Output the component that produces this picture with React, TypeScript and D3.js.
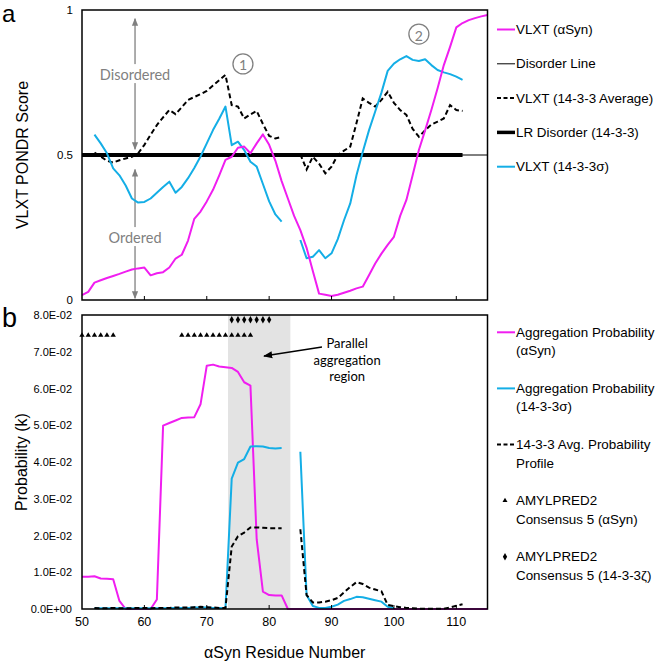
import React from 'react';
import * as d3 from 'd3';

// ---------- DATA ----------
const residues: number[] = d3.range(50, 116); // residue numbers 50..115

// Panel a: VLXT PONDR scores
const vlxtASyn: (number | null)[] = [
  0.017, 0.028, 0.06, 0.068, 0.076, 0.083, 0.09, 0.098, 0.105, 0.109,
  0.112, 0.085, 0.092, 0.096, 0.112, 0.143, 0.156, 0.205, 0.28, 0.305,
  0.34, 0.38, 0.43, 0.483, 0.494, 0.525, 0.529, 0.506, 0.54, 0.571,
  0.535, 0.48, 0.41, 0.35, 0.29, 0.241, 0.18, 0.1, 0.022, 0.018,
  0.014, 0.018, 0.025, 0.032, 0.04, 0.046, 0.085, 0.126, 0.16, 0.19,
  0.218, 0.29, 0.345, 0.43, 0.517, 0.585, 0.655, 0.73, 0.81, 0.873,
  0.94, 0.955, 0.965, 0.972, 0.978, 0.983,
];
const vlxtSigma: (number | null)[] = [
  null, null, 0.57, 0.54, 0.506, 0.454, 0.43, 0.395, 0.35, 0.336,
  0.338, 0.35, 0.37, 0.39, 0.408, 0.37, 0.39, 0.42, 0.455, 0.495,
  0.54, 0.586, 0.625, 0.667, 0.534, 0.546, 0.517, 0.477, 0.46, 0.4,
  0.34, 0.295, 0.27, null, null, 0.207, 0.144, 0.149, 0.172, 0.144,
  0.161, 0.21, 0.275, 0.333, 0.43, 0.51, 0.585, 0.65, 0.715, 0.79,
  0.815, 0.83, 0.841, 0.828, 0.824, 0.83, 0.81, 0.793, 0.785, 0.779,
  0.77, 0.759, null, null, null, null,
];
const vlxtAvg: (number | null)[] = [
  null, null, 0.508, 0.495, 0.48, 0.474, 0.482, 0.488, 0.494, 0.506,
  0.535, 0.57, 0.603, 0.63, 0.655, 0.641, 0.665, 0.69, 0.7, 0.71,
  0.721, 0.74, 0.758, 0.776, 0.672, 0.667, 0.626, 0.64, 0.652, 0.607,
  0.566, 0.557, 0.563, null, null, 0.503, 0.45, 0.494, 0.47, 0.437,
  0.46, 0.5, 0.515, 0.529, 0.61, 0.695, 0.68, 0.667, 0.69, 0.718,
  0.68, 0.655, 0.638, 0.59, 0.563, 0.585, 0.605, 0.615, 0.626, 0.672,
  0.655, 0.652, null, null, null, null,
];
const lrDisorderRange = [50, 111];
const lrDisorderValue = 0.5;
const disorderLineValue = 0.5;

// Panel b: aggregation probabilities
const aggASyn: (number | null)[] = [
  0.0088, 0.0088, 0.0089, 0.0083, 0.0082, 0.0081, 0.0022, 0, 0, 0,
  0, 0, 0.0026, 0.0499, 0.0506, 0.0513, 0.052, 0.0521, 0.0522, 0.0557,
  0.0662, 0.0665, 0.066, 0.0658, 0.0656, 0.0645, 0.0617, 0.0608, 0.019, 0.0047,
  0.0038, 0.0037, 0.0037, 0, 0, 0, 0, 0, 0, 0,
  0, 0, 0, 0, 0, 0, 0, 0, 0, 0,
  0, 0, 0, 0, 0, 0, 0, 0, 0, 0,
  0, 0, 0, 0, 0, 0,
];
const aggSigma: (number | null)[] = [
  null, null, 0.0002, 0.0002, 0.0002, 0.0002, 0.0002, 0.0002, 0.0002, 0.0002,
  0.0002, 0.0002, 0.0002, 0.0002, 0.0003, 0.0003, 0.0003, 0.0003, 0.0004, 0.0004,
  0.0004, 0.0003, 0.0003, 0.0003, 0.0355, 0.0398, 0.0408, 0.0442, 0.0443, 0.0442,
  0.0438, 0.0437, 0.0438, null, null, 0.0428, 0.0038, 0.0008, 0.0003, 0.0003,
  0.0006, 0.0012, 0.0022, 0.0027, 0.0033, 0.0032, 0.0028, 0.0024, 0.002, 0.0006,
  0.0002, null, null, null, null, null, null, null, null, null,
  null, null, null, null, null, null,
];
const aggAvg: (number | null)[] = [
  null, null, 0.0003, 0.0002, 0.0002, 0.0003, 0.0002, 0.0002, 0.0002, 0.0003,
  0.0003, 0.0002, 0.0003, 0.0003, 0.0003, 0.0004, 0.0004, 0.0004, 0.0005, 0.0006,
  0.0005, 0.0004, 0.0003, 0.0003, 0.017, 0.0198, 0.0208, 0.0222, 0.0222, 0.0221,
  0.022, 0.022, 0.022, null, null, 0.0217, 0.0038, 0.0018, 0.0018, 0.002,
  0.0024, 0.003, 0.0045, 0.006, 0.0073, 0.0068, 0.0058, 0.0053, 0.0048, 0.0011,
  0.0008, 0.0005, 0.0003, 0.0002, 0.0001, 0.0001, 0.0001, 0.0001, 0.0001, 0.0004,
  0.0009, 0.0013, null, null, null, null,
];
const amylASynResidues = [50, 51, 52, 53, 54, 55, 66, 67, 68, 69, 70, 71, 72, 73, 74, 75, 76, 77];
const amylASynLevel = 0.0745;
const amylZetaResidues = [74, 75, 76, 77, 78, 79, 80];
const amylZetaLevel = 0.0787;
const shadeRange = [73.4, 83.4];

const xTicks = [50, 60, 70, 80, 90, 100, 110];
const yTicksA = [0, 0.5, 1];
const yTickLabelsA = ['0', '0.5', '1'];
const yTicksB = [0, 0.01, 0.02, 0.03, 0.04, 0.05, 0.06, 0.07, 0.08];
const yTickLabelsB = ['0.0E+00', '1.0E-02', '2.0E-02', '3.0E-02', '4.0E-02', '5.0E-02', '6.0E-02', '7.0E-02', '8.0E-02'];

const legendA = [
  { label: 'VLXT (αSyn)', kind: 'magenta' },
  { label: 'Disorder Line', kind: 'thin' },
  { label: 'VLXT (14-3-3 Average)', kind: 'dash' },
  { label: 'LR Disorder (14-3-3)', kind: 'thick' },
  { label: 'VLXT (14-3-3σ)', kind: 'blue' },
];
const legendB = [
  { lines: ['Aggregation Probability', '(αSyn)'], kind: 'magenta' },
  { lines: ['Aggregation Probability', '(14-3-3σ)'], kind: 'blue' },
  { lines: ['14-3-3 Avg. Probability', 'Profile'], kind: 'dash' },
  { lines: ['AMYLPRED2', 'Consensus 5 (αSyn)'], kind: 'tri' },
  { lines: ['AMYLPRED2', 'Consensus 5 (14-3-3ζ)'], kind: 'dia' },
];

// ---------- STYLE ----------
const MAGENTA = '#f01ef0';
const BLUE = '#14aee6';
const GRAY = '#808080';
const FONT = '"Liberation Sans", Arial, sans-serif';
const CAL = 'Lato, "Open Sans", sans-serif';

const W = 661;
const H = 664;

export default function App() {
  const x = d3.scaleLinear().domain([50, 115]).range([82, 487.5]);
  const yA = d3.scaleLinear().domain([0, 1]).range([300, 10]);
  const yB = d3.scaleLinear().domain([0, 0.08]).range([609, 315]);

  const mkLine = (y: d3.ScaleLinear<number, number>) =>
    d3
      .line<number | null>()
      .defined((d) => d !== null)
      .x((_, i) => x(residues[i]))
      .y((d) => y(d as number));

  const lineA = mkLine(yA);
  const lineB = mkLine(yB);

  const triPath = d3.symbol(d3.symbolTriangle, 22)() as string;
  const diaPath = d3.symbol(d3.symbolDiamond, 16)() as string;

  const arrowX = x(58.5);

  const plotA = { x0: x(50), x1: x(115), y0: yA(1), y1: yA(0) };
  const plotB = { x0: x(50), x1: x(115), y0: yB(0.08), y1: yB(0) };

  const legendSwatch = (kind: string, lx: number, ly: number) => {
    if (kind === 'magenta') return <line x1={lx} x2={lx + 18} y1={ly} y2={ly} stroke={MAGENTA} strokeWidth={2} />;
    if (kind === 'blue') return <line x1={lx} x2={lx + 18} y1={ly} y2={ly} stroke={BLUE} strokeWidth={2} />;
    if (kind === 'thin') return <line x1={lx} x2={lx + 18} y1={ly} y2={ly} stroke="#000" strokeWidth={1} />;
    if (kind === 'thick') return <line x1={lx} x2={lx + 18} y1={ly} y2={ly} stroke="#000" strokeWidth={3.5} />;
    if (kind === 'dash') return <line x1={lx} x2={lx + 18} y1={ly} y2={ly} stroke="#000" strokeWidth={2} strokeDasharray="4,2.5" />;
    if (kind === 'tri') return <path d={triPath} transform={`translate(${lx + 8},${ly}) scale(0.7)`} fill="#000" />;
    if (kind === 'dia') return <path d={diaPath} transform={`translate(${lx + 8},${ly})`} fill="#000" />;
    return null;
  };

  return (
    <svg
      width={W}
      height={H}
      style={{ position: 'fixed', left: 0, top: 0, background: '#fff' }}
      fontFamily={FONT}
    >
      <defs>
        <marker id="gArrow" viewBox="0 0 10 10" refX="9" refY="5" markerWidth="6" markerHeight="6" orient="auto-start-reverse">
          <path d="M0,1 L10,5 L0,9 z" fill={GRAY} />
        </marker>
        <marker id="kArrow" viewBox="0 0 10 10" refX="9" refY="5" markerWidth="7" markerHeight="7" orient="auto">
          <path d="M0,1 L10,5 L0,9 z" fill="#000" />
        </marker>
        <clipPath id="clipA">
          <rect x={plotA.x0} y={plotA.y0 - 2} width={plotA.x1 - plotA.x0} height={plotA.y1 - plotA.y0 + 4} />
        </clipPath>
      </defs>
      <rect width={W} height={H} fill="#fff" />

      {/* ---------- PANEL A ---------- */}
      <text x={2} y={22} fontSize={24}>a</text>
      <text transform={`translate(28,${(plotA.y0 + plotA.y1) / 2}) rotate(-90)`} textAnchor="middle" fontSize={16}>
        VLXT PONDR Score
      </text>
      {yTicksA.map((t, i) => (
        <text key={t} x={73} y={yA(t)} textAnchor="end" dominantBaseline="central" fontSize={11.5}>
          {yTickLabelsA[i]}
        </text>
      ))}

      {/* annotation arrows */}
      <line x1={arrowX} x2={arrowX} y1={yA(0.52)} y2={yA(0.97)} stroke={GRAY} strokeWidth={1.3} markerStart="url(#gArrow)" markerEnd="url(#gArrow)" />
      <line x1={arrowX} x2={arrowX} y1={yA(0.45)} y2={yA(0.006)} stroke={GRAY} strokeWidth={1.3} markerStart="url(#gArrow)" markerEnd="url(#gArrow)" />
      <rect x={arrowX - 37} y={yA(0.779) - 10} width={74} height={19} fill="#fff" />
      <text x={arrowX} y={yA(0.779)} textAnchor="middle" dominantBaseline="central" fontFamily={CAL} fontSize={14.5} fill={GRAY}>
        Disordered
      </text>
      <rect x={arrowX - 28} y={yA(0.217) - 10} width={56} height={19} fill="#fff" />
      <text x={arrowX} y={yA(0.217)} textAnchor="middle" dominantBaseline="central" fontFamily={CAL} fontSize={14.5} fill={GRAY}>
        Ordered
      </text>

      {/* numbered circles */}
      <circle cx={x(75.8)} cy={yA(0.814)} r={10} fill="none" stroke={GRAY} strokeWidth={1.3} />
      <text x={x(75.8)} y={yA(0.814) + 1} textAnchor="middle" dominantBaseline="central" fontFamily={CAL} fontSize={14} fill={GRAY}>1</text>
      <circle cx={x(104)} cy={yA(0.917)} r={10} fill="none" stroke={GRAY} strokeWidth={1.3} />
      <text x={x(104)} y={yA(0.917) + 1} textAnchor="middle" dominantBaseline="central" fontFamily={CAL} fontSize={14} fill={GRAY}>2</text>

      <g clipPath="url(#clipA)">
        <line x1={x(50)} x2={x(115)} y1={yA(disorderLineValue)} y2={yA(disorderLineValue)} stroke="#000" strokeWidth={1} />
        <line x1={x(lrDisorderRange[0])} x2={x(lrDisorderRange[1])} y1={yA(lrDisorderValue)} y2={yA(lrDisorderValue)} stroke="#000" strokeWidth={4} />
        <path d={lineA(vlxtAvg) || ''} fill="none" stroke="#000" strokeWidth={2} strokeDasharray="5,3" />
        <path d={lineA(vlxtSigma) || ''} fill="none" stroke={BLUE} strokeWidth={2} strokeLinejoin="round" />
        <path d={lineA(vlxtASyn) || ''} fill="none" stroke={MAGENTA} strokeWidth={2} strokeLinejoin="round" />
      </g>

      {xTicks.slice(1).map((t) => (
        <line key={t} x1={x(t)} x2={x(t)} y1={plotA.y1} y2={plotA.y1 - 4} stroke="#000" strokeWidth={1} />
      ))}
      <rect x={plotA.x0} y={plotA.y0} width={plotA.x1 - plotA.x0} height={plotA.y1 - plotA.y0} fill="none" stroke="#000" strokeWidth={1.5} />

      {legendA.map((e, i) => {
        const ly = 29.5 + i * 34.3;
        return (
          <g key={e.label}>
            {legendSwatch(e.kind, 497, ly)}
            <text x={516} y={ly} dominantBaseline="central" fontSize={13.4}>{e.label}</text>
          </g>
        );
      })}

      {/* ---------- PANEL B ---------- */}
      <text x={2} y={327} fontSize={27}>b</text>
      <text transform={`translate(27,${(plotB.y0 + plotB.y1) / 2}) rotate(-90)`} textAnchor="middle" fontSize={16}>
        Probability (k)
      </text>
      {yTicksB.map((t, i) => (
        <text key={t} x={72} y={yB(t)} textAnchor="end" dominantBaseline="central" fontSize={11}>
          {yTickLabelsB[i]}
        </text>
      ))}
      {xTicks.map((t) => (
        <text key={t} x={x(t)} y={622} textAnchor="middle" dominantBaseline="central" fontSize={12.5}>
          {t}
        </text>
      ))}
      <text x={(plotB.x0 + plotB.x1) / 2} y={652} textAnchor="middle" dominantBaseline="central" fontSize={16}>
        αSyn Residue Number
      </text>

      <rect x={x(shadeRange[0])} y={plotB.y0} width={x(shadeRange[1]) - x(shadeRange[0])} height={plotB.y1 - plotB.y0} fill="#e3e3e3" />

      <path d={lineB(aggASyn) || ''} fill="none" stroke={MAGENTA} strokeWidth={2} strokeLinejoin="round" />
      <path d={lineB(aggSigma) || ''} fill="none" stroke={BLUE} strokeWidth={2} strokeLinejoin="round" />
      <path d={lineB(aggAvg) || ''} fill="none" stroke="#000" strokeWidth={2} strokeDasharray="5,3" />

      {amylASynResidues.map((r) => (
        <path key={'t' + r} d={triPath} transform={`translate(${x(r)},${yB(amylASynLevel)}) scale(0.75)`} fill="#000" />
      ))}
      {amylZetaResidues.map((r) => (
        <path key={'d' + r} d={diaPath} transform={`translate(${x(r)},${yB(amylZetaLevel)})`} fill="#000" />
      ))}

      {/* Parallel aggregation annotation */}
      <line x1={322} y1={347} x2={264} y2={356} stroke="#000" strokeWidth={1.3} markerEnd="url(#kArrow)" />
      {['Parallel', 'aggregation', 'region'].map((s, i) => (
        <text key={s} x={x(92.5)} y={343 + i * 16.5} textAnchor="middle" dominantBaseline="central" fontFamily={CAL} fontSize={13}>
          {s}
        </text>
      ))}

      {xTicks.slice(1).map((t) => (
        <line key={t} x1={x(t)} x2={x(t)} y1={plotB.y1} y2={plotB.y1 - 4} stroke="#000" strokeWidth={1} />
      ))}
      <rect x={plotB.x0} y={plotB.y0} width={plotB.x1 - plotB.x0} height={plotB.y1 - plotB.y0} fill="none" stroke="#000" strokeWidth={1.5} />

      {legendB.map((e, i) => {
        const ly = 332.3 + i * 56.1;
        return (
          <g key={e.lines.join()}>
            {legendSwatch(e.kind, 497, ly)}
            {e.lines.map((s, j) => (
              <text key={s} x={516} y={ly + j * 18.5} dominantBaseline="central" fontSize={13.4}>
                {s}
              </text>
            ))}
          </g>
        );
      })}
    </svg>
  );
}
